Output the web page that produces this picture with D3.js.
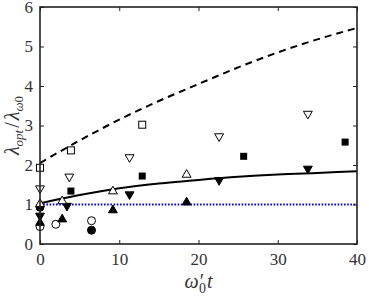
<!DOCTYPE html>
<html>
<head>
<meta charset="utf-8">
<script src="https://d3js.org/d3.v7.min.js"></script>
<style>
  body { margin: 0; background: #fff; }
</style>
</head>
<body>
<svg id="chart"></svg>
<script>
// upper (dashed) and lower (solid) model curves
var curveT = [0, 2.5, 5, 7.5, 10, 15, 20, 25, 30, 35, 40];
var dashedVals = [2.05, 2.34, 2.62, 2.89, 3.15, 3.62, 4.05, 4.47, 4.85, 5.18, 5.47];
var solidVals = [1.03, 1.14, 1.24, 1.33, 1.41, 1.53, 1.62, 1.70, 1.76, 1.80, 1.84];
var refLevel = 1;

// measured points, one list per marker style: [t, value]
var openSquare = [[0, 1.93], [3.9, 2.37], [12.9, 3.02]];
var openDown = [[0, 1.38], [3.7, 1.68], [11.3, 2.17], [22.6, 2.70], [33.8, 3.27]];
var filledSquare = [[3.9, 1.34], [12.9, 1.72], [25.7, 2.22], [38.5, 2.58]];
var openUp = [[0, 1.04], [2.8, 1.11], [9.2, 1.36], [18.5, 1.78]];
var filledDown = [[0, 0.69], [3.4, 0.94], [11.3, 1.23], [22.6, 1.59], [33.8, 1.88]];
var filledUp = [[0, 0.56], [2.8, 0.65], [9.2, 0.88], [18.5, 1.08]];
var openCircle = [[0, 0.44], [2.0, 0.50], [6.5, 0.59]];
var filledCircle = [[0, 0.93], [6.5, 0.35]];

var xTicks = [0, 10, 20, 30, 40];
var yTicks = [0, 1, 2, 3, 4, 5, 6];

var width = 369, height = 296;
var margin = {top: 7, right: 12, bottom: 52, left: 40};
var serif = "Liberation Serif";

var svg = d3.select("#chart").attr("width", width).attr("height", height);

var x = d3.scaleLinear().domain([0, 40]).range([margin.left, width - margin.right]);
var y = d3.scaleLinear().domain([0, 6]).range([height - margin.bottom, margin.top]);

// axes with inward ticks on all four sides
var tickLen = 4;
var fmt = d3.format("d");
svg.append("g")
  .attr("transform", "translate(0," + y(0) + ")")
  .call(d3.axisBottom(x).tickValues(xTicks).tickFormat(fmt).tickSizeInner(-tickLen).tickSizeOuter(0).tickPadding(9))
  .call(function(g) { g.select(".domain").remove(); });
svg.append("g")
  .attr("transform", "translate(0," + y(6) + ")")
  .call(d3.axisTop(x).tickValues(xTicks).tickSizeInner(-tickLen).tickSizeOuter(0).tickFormat(""))
  .call(function(g) { g.select(".domain").remove(); });
svg.append("g")
  .attr("transform", "translate(" + x(0) + ",0)")
  .call(d3.axisLeft(y).tickValues(yTicks).tickFormat(fmt).tickSizeInner(-tickLen).tickSizeOuter(0).tickPadding(7))
  .call(function(g) { g.select(".domain").remove(); });
svg.append("g")
  .attr("transform", "translate(" + x(40) + ",0)")
  .call(d3.axisRight(y).tickValues(yTicks).tickSizeInner(-tickLen).tickSizeOuter(0).tickFormat(""))
  .call(function(g) { g.select(".domain").remove(); });

svg.selectAll(".tick line").attr("stroke", "#222").attr("stroke-width", 1);
svg.selectAll("g").filter(function() { return this.getAttribute("font-size"); })
  .attr("font-family", serif).attr("font-size", 17);
svg.selectAll(".tick text").style("font-size", "17px").style("fill", "#333")
  .style("font-family", serif);

// reference line and model curves
svg.append("line")
  .attr("x1", x(0)).attr("x2", x(40))
  .attr("y1", y(refLevel)).attr("y2", y(refLevel))
  .attr("stroke", "#0000ff").attr("stroke-width", 2)
  .attr("stroke-dasharray", "1.6,1.6");

var line = d3.line()
  .x(function(d) { return x(d[0]); })
  .y(function(d) { return y(d[1]); })
  .curve(d3.curveMonotoneX);

svg.append("path")
  .datum(curveT.map(function(t, i) { return [t, dashedVals[i]]; }))
  .attr("d", line).attr("fill", "none").attr("stroke", "#000")
  .attr("stroke-width", 2).attr("stroke-dasharray", "7,5");

svg.append("path")
  .datum(curveT.map(function(t, i) { return [t, solidVals[i]]; }))
  .attr("d", line).attr("fill", "none").attr("stroke", "#000")
  .attr("stroke-width", 2);

// markers
var triUp = d3.symbol().type(d3.symbolTriangle).size(34);
function drawTri(data, down, filled) {
  svg.selectAll(null).data(data).enter().append("path")
    .attr("d", triUp)
    .attr("transform", function(d) {
      return "translate(" + x(d[0]) + "," + (y(d[1]) + (down ? -1 : 1)) + ")" + (down ? " rotate(180)" : "");
    })
    .attr("fill", filled ? "#000" : "#fff")
    .attr("stroke", "#000").attr("stroke-width", 1);
}
function drawSquare(data, filled) {
  svg.selectAll(null).data(data).enter().append("rect")
    .attr("x", function(d) { return x(d[0]) - 3.5; })
    .attr("y", function(d) { return y(d[1]) - 3.5; })
    .attr("width", 7).attr("height", 7)
    .attr("fill", filled ? "#000" : "#fff")
    .attr("stroke", "#000").attr("stroke-width", filled ? 0 : 1);
}
function drawCircle(data, filled) {
  svg.selectAll(null).data(data).enter().append("circle")
    .attr("cx", function(d) { return x(d[0]); })
    .attr("cy", function(d) { return y(d[1]); })
    .attr("r", 4)
    .attr("fill", filled ? "#000" : "#fff")
    .attr("stroke", "#000").attr("stroke-width", 1);
}

drawCircle(filledCircle, true);
drawCircle(openCircle, false);
drawTri(filledUp, false, true);
drawTri(filledDown, true, true);
drawTri(openUp, false, false);
drawSquare(filledSquare, true);
drawTri(openDown, true, false);
drawSquare(openSquare, false);

// frame
svg.append("rect")
  .attr("x", x(0)).attr("y", y(6))
  .attr("width", x(40) - x(0)).attr("height", y(0) - y(6))
  .attr("fill", "none").attr("stroke", "#222").attr("stroke-width", 1.6);

// axis labels
var xl = svg.append("text")
  .attr("x", x(20) - 14).attr("y", 288)
  .style("font-family", serif).style("font-size", "20px").style("font-style", "italic").style("fill", "#333");
xl.append("tspan").text("ω′");
xl.append("tspan").attr("dx", -4).attr("dy", 5).style("font-size", "14px").style("font-style", "normal").text("0");
xl.append("tspan").attr("dx", 1).attr("dy", -5).text("t");

var yl = svg.append("text")
  .attr("transform", "translate(19," + y(3.0) + ") rotate(-90)")
  .attr("text-anchor", "middle")
  .style("font-family", serif).style("font-size", "20px").style("font-style", "italic").style("fill", "#333");
yl.append("tspan").text("λ");
yl.append("tspan").attr("dy", 4).style("font-size", "13px").text("opt");
yl.append("tspan").attr("dx", 2).attr("dy", -4).style("font-style", "normal").text("/");
yl.append("tspan").attr("dx", 2).text("λ");
yl.append("tspan").attr("dy", 4).style("font-size", "13px").text("ω");
yl.append("tspan").style("font-size", "13px").style("font-style", "normal").text("0");
</script>
</body>
</html>
